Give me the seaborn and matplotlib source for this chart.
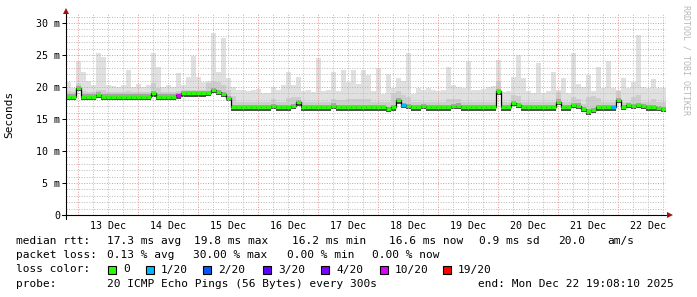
import numpy as np
import pandas as pd
import matplotlib
matplotlib.use("Agg")
import matplotlib.pyplot as plt
from matplotlib.patches import Rectangle
import seaborn as sns

# ------------------------------------------------------------------ data
BIN_H = 2                      # hours per bin, 10 days -> 120 bins
FIRST_MIDNIGHT = 4.864         # hours from graph start (Dec 12 19:08:10) to Dec 13 00:00
day_labels = ["13 Dec", "14 Dec", "15 Dec", "16 Dec", "17 Dec",
              "18 Dec", "19 Dec", "20 Dec", "21 Dec", "22 Dec"]

median_ms = [
    18.5, 18.5, 19.8, 18.5, 18.5, 18.5, 18.8, 18.5, 18.5, 18.5,
    18.5, 18.5, 18.5, 18.5, 18.5, 18.5, 18.5, 19.0, 18.5, 18.5,
    18.5, 18.5, 18.7, 19.0, 19.0, 19.0, 19.0, 19.0, 19.1, 19.5,
    19.2, 18.9, 18.3, 16.8, 16.8, 16.8, 16.8, 16.8, 16.8, 16.8,
    16.8, 17.0, 16.8, 16.8, 16.8, 17.0, 17.6, 16.8, 16.8, 16.8,
    16.8, 16.8, 16.8, 17.1, 16.8, 16.8, 16.8, 16.8, 16.8, 16.8,
    16.8, 16.8, 16.8, 16.8, 16.6, 16.8, 17.9, 17.2, 17.0, 16.8,
    16.8, 17.0, 16.8, 16.8, 16.8, 16.8, 16.8, 17.0, 17.1, 16.8,
    16.8, 16.8, 16.8, 16.8, 16.8, 16.8, 19.3, 16.8, 16.8, 17.5,
    17.2, 16.8, 16.8, 16.8, 16.8, 16.8, 16.8, 16.8, 17.7, 16.8,
    16.8, 17.2, 17.1, 16.6, 16.2, 16.4, 16.8, 16.8, 16.8, 16.8,
    18.0, 16.9, 17.2, 17.0, 17.2, 17.0, 16.8, 16.8, 16.7, 16.6,
]

smoke_max_ms = [
    20.8, 19.8, 24.0, 22.4, 21.0, 20.3, 25.3, 24.7, 20.3, 20.2,
    20.0, 20.3, 22.7, 20.0, 20.5, 20.0, 20.3, 25.3, 23.2, 20.0,
    20.3, 20.0, 22.2, 20.3, 21.5, 24.8, 21.6, 20.8, 21.0, 28.5,
    22.4, 27.6, 21.4, 20.0, 19.6, 19.5, 19.3, 19.5, 19.7, 19.0,
    19.0, 20.0, 19.5, 20.3, 22.4, 20.3, 21.6, 19.3, 19.5, 19.2,
    24.5, 19.3, 19.5, 22.4, 19.3, 22.6, 20.8, 22.6, 20.4, 22.6,
    21.9, 19.3, 22.9, 18.9, 22.1, 19.8, 21.4, 20.9, 25.3, 18.9,
    19.8, 19.5, 19.8, 19.5, 19.3, 19.5, 23.2, 20.3, 20.0, 19.8,
    24.0, 19.5, 19.5, 19.7, 20.0, 20.1, 24.2, 19.2, 19.3, 21.6,
    25.0, 21.4, 19.3, 19.0, 23.7, 19.0, 19.3, 22.3, 19.5, 21.4,
    19.0, 25.3, 20.5, 20.0, 21.8, 19.3, 23.2, 19.8, 24.0, 19.8,
    19.5, 21.4, 19.8, 20.8, 28.1, 20.0, 19.8, 21.2, 19.8, 19.8,
]

smoke_mid_ms = [
    19.3, 19.2, 20.5, 19.4, 19.2, 19.2, 19.6, 19.5, 19.2, 19.2,
    19.2, 19.2, 19.4, 19.2, 19.2, 19.2, 19.2, 20.6, 19.8, 19.2,
    19.2, 19.2, 19.4, 19.6, 19.6, 19.6, 19.6, 19.6, 20.6, 21.0,
    20.8, 20.3, 19.6, 18.6, 17.6, 17.6, 17.6, 17.6, 17.6, 17.6,
    17.6, 18.1, 17.6, 17.6, 18.3, 18.4, 18.5, 17.6, 17.6, 17.6,
    17.6, 17.6, 17.6, 18.1, 18.0, 18.0, 18.2, 18.2, 18.2, 18.2,
    18.2, 17.6, 17.6, 17.6, 17.6, 19.0, 19.3, 18.8, 18.4, 17.6,
    17.6, 17.6, 17.6, 17.6, 17.6, 17.6, 18.2, 18.2, 18.2, 17.6,
    17.6, 17.6, 17.6, 17.6, 17.6, 17.6, 21.0, 17.6, 17.6, 18.8,
    18.6, 17.6, 17.6, 17.6, 17.6, 17.6, 17.6, 17.6, 19.2, 17.6,
    17.6, 18.4, 18.2, 17.4, 18.4, 18.6, 18.3, 17.6, 17.6, 17.6,
    19.4, 17.6, 17.6, 18.4, 18.7, 17.6, 17.6, 18.1, 17.6, 17.6,
]

loss_pings = [0] * 120
loss_pings[22] = 10
loss_pings[67] = 1
loss_pings[109] = 1

loss_levels = [0, 1, 2, 3, 4, 10, 19]
loss_labels = ["0", "1/20", "2/20", "3/20", "4/20", "10/20", "19/20"]
loss_colors = ["#26ff00", "#00b8ff", "#0059ff", "#5e00ff", "#7e00ff", "#dd00ff", "#ff0000"]

row_rtt = [("median rtt:", 16), ("17.3 ms avg", 107), ("19.8 ms max", 194),
           ("16.2 ms min", 292), ("16.6 ms now", 389), ("0.9 ms sd", 479),
           ("20.0", 558), ("am/s", 607)]
row_loss = [("packet loss:", 16), ("0.13 % avg", 107), ("30.00 % max", 193),
            ("0.00 % min", 287), ("0.00 % now", 372)]
row_probe = [("probe:", 16), ("20 ICMP Echo Pings (56 Bytes) every 300s", 107),
             ("end: Mon Dec 22 19:08:10 2025", 478.5)]
box_x = [108, 146, 203, 263, 321, 380, 443]

# ------------------------------------------------------------------ figure
sns.set_theme(style="white")
MONO = "DejaVu Sans Mono"
plt.rcParams["font.family"] = [MONO, "DejaVu Sans"]
plt.rcParams["lines.scale_dashes"] = False

W, H = 697, 297
fig = plt.figure(figsize=(W / 100, H / 100), dpi=100, facecolor="white")
ax = fig.add_axes([66 / W, (H - 215) / H, 600 / W, 202 / H])
ax.set_facecolor("white")

n = len(median_ms)
df = pd.DataFrame({
    "t": np.arange(n) * BIN_H,
    "median": median_ms,
    "max": smoke_max_ms,
    "mid": smoke_mid_ms,
    "loss": loss_pings,
})
df["low"] = df["median"] - 0.5

# smoke layers (lighter = fewer pings)
ax.bar(df["t"], df["max"] - df["low"], bottom=df["low"], width=BIN_H, align="edge",
       color="#e0e0e0", linewidth=0, zorder=1)
ax.bar(df["t"], df["mid"] - df["low"], bottom=df["low"], width=BIN_H, align="edge",
       color="#cdcdcd", linewidth=0, zorder=1.1)
ax.bar(df["t"], 0.85, bottom=df["median"] - 0.5, width=BIN_H, align="edge",
       color="#a4a4a4", linewidth=0, zorder=1.2)
ax.bar(df["t"], 0.3, bottom=df["median"] - 0.5, width=BIN_H, align="edge",
       color="#505050", linewidth=0, zorder=1.3)

# grid (dotted, drawn over the smoke like rrdtool): 1px on, 1.5px off
dot = (0, (0.72, 1.1))
for h in np.arange(FIRST_MIDNIGHT, 240, 6):
    k = (h - FIRST_MIDNIGHT) / 24
    major = abs(k - round(k)) < 1e-6
    ax.axvline(h, color="#e49a9a" if major else "#bdbdbd", lw=0.72,
               linestyle=dot, zorder=2)
for v in range(1, 32):
    major = v % 5 == 0
    ax.axhline(v, color="#e49a9a" if major else "#bdbdbd", lw=0.72,
               linestyle=dot, zorder=2)

# median: black step connectors + loss-coloured segments
step_df = pd.concat([df[["t", "median"]],
                     pd.DataFrame({"t": [n * BIN_H], "median": [median_ms[-1]]})])
sns.lineplot(data=step_df, x="t", y="median", estimator=None, drawstyle="steps-post",
             color="black", lw=0.9, ax=ax, zorder=3)
cmap = dict(zip(loss_levels, loss_colors))
for lvl in sorted(df["loss"].unique()):
    sub = df[df["loss"] == lvl]
    ax.hlines(sub["median"], sub["t"], sub["t"] + BIN_H, colors=cmap[lvl],
              lw=2.1, zorder=4)

ax.set_xlim(0, 240)
ax.set_ylim(0, 31.56)

# axes / ticks
for s in ax.spines.values():
    s.set_visible(False)
ax.set_yticks(range(0, 31, 5))
ax.set_yticklabels(["0"] + [f"{v} m" for v in range(5, 31, 5)])
noons = FIRST_MIDNIGHT + 12 + 24 * np.arange(len(day_labels))
ax.set_xticks(noons)
ax.set_xticklabels(day_labels)
ax.tick_params(axis="y", length=2.9, width=0.7, color="black", pad=1.5,
               labelsize=7.2, labelcolor="black", left=True)
ax.tick_params(axis="x", length=0, pad=4.0, labelsize=7.2, labelcolor="black")
for lab in ax.get_xticklabels() + ax.get_yticklabels():
    lab.set_fontfamily(MONO)
ax.set_xlabel("")
ax.set_ylabel("Seconds", fontsize=8.0, family=MONO, color="black")
ax.yaxis.set_label_coords(-52 / 600, 0.5)

# axis lines with arrows
ax.plot([0, 0], [-4 / 202, 1.0], transform=ax.transAxes, color="black",
        lw=0.8, clip_on=False, zorder=5)
ax.plot([-4 / 600, 1.0], [0, 0], transform=ax.transAxes, color="black",
        lw=0.8, clip_on=False, zorder=5)
ax.plot([0], [1.0 + 2.5 / 202], marker="^", ms=4.2, color="#a01010",
        transform=ax.transAxes, clip_on=False, zorder=6, markeredgewidth=0)
ax.plot([1.0 + 4 / 600], [0], marker=">", ms=4.2, color="#a01010",
        transform=ax.transAxes, clip_on=False, zorder=6, markeredgewidth=0)

# watermark
fig.text(686 / W, 1 - 5 / H, "RRDTOOL / TOBI OETIKER", rotation=270,
         ha="center", va="top", fontsize=6.0, family=MONO, color="#b8b8b8")

# legend block
FS = 8.0
def put(items, ypix):
    for txt, xp in items:
        fig.text(xp / W, 1 - ypix / H, txt, ha="left", va="center",
                 fontsize=FS, family=MONO, color="black")

put(row_rtt, 241.3)
put(row_loss, 255.5)
put([("loss color:", 16)], 269.5)
for bx, col, lab in zip(box_x, loss_colors, loss_labels):
    fig.add_artist(Rectangle((bx / W, 1 - 273.5 / H), 8 / W, 8 / H,
                             transform=fig.transFigure, facecolor=col,
                             edgecolor="black", lw=0.8))
    fig.text((bx + 15) / W, 1 - 269.5 / H, lab, ha="left", va="center",
             fontsize=FS, family=MONO, color="black")
put(row_probe, 283.7)

fig.savefig("out.png", dpi=100, facecolor="white")
